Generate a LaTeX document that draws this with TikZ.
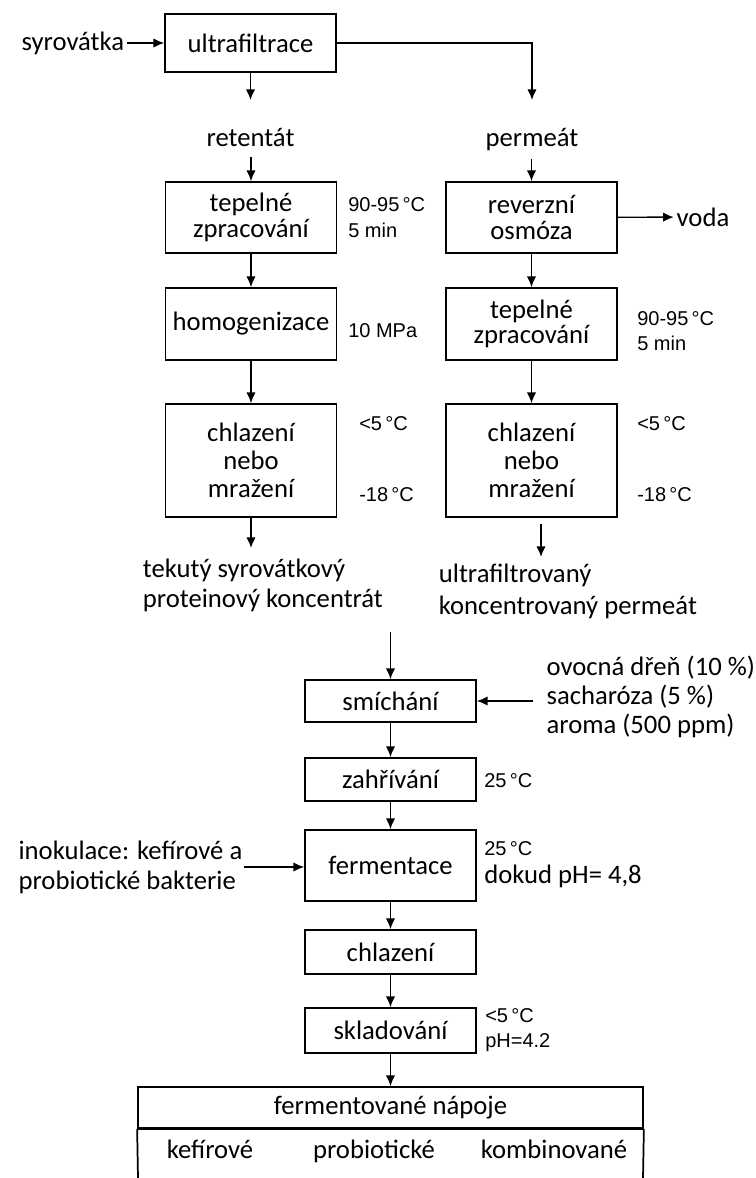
\documentclass[tikz,border=0pt]{standalone}
\usepackage{fontspec}
\setmainfont{Carlito}
\newfontfamily\notefont{Liberation Sans}
\usetikzlibrary{arrows.meta}

\begin{document}
\begin{tikzpicture}[x=0.75pt,y=-0.75pt]
			\tikzstyle{stage} = [draw, line width=1.3pt, minimum width=128.25pt, align=center, inner sep=2pt, font=\fontsize{20}{19}\selectfont]
			\tikzstyle{plain} = [inner sep=2pt, font=\fontsize{20}{22.5}\selectfont]
			\tikzstyle{note} = [anchor=west, align=left, inner sep=0pt, font=\notefont\fontsize{15}{19}\selectfont]
			\tikzset{flowedge/.style = {line width=1pt, -{Latex[length=8pt,width=7pt]}}}
			\useasboundingbox (0,0) rectangle (756,1178);
			
			\node[stage, minimum height=43.5pt](ultra) at (250.5,43) {ultrafiltrace};
			\node[plain, anchor=base east](whey) at (127,50) {syrovátka};
			\draw[flowedge](whey.east |- ultra.west) to (ultra.west);
			\coordinate (retend) at (250.5,100);
			\coordinate (permend) at (532,100);
			\draw[flowedge](ultra) to (retend);
			\draw[flowedge](ultra.east) -| (permend);
			
			\node[plain, anchor=base](ret) at (250.5,146) {retentát};
			\node[plain, anchor=base](perm) at (532,146) {permeát};
			
			\node[stage, minimum height=53.25pt](heatA) at (251,217.5) {tepelné\\zpracování};
			\node[stage, minimum height=54pt](homog) at (251,324) {homogenizace};
			\node[stage, minimum height=84.75pt, font=\fontsize{20}{21}\selectfont](coolA) at (251,460.5) {chlazení\\nebo\\mražení};
			\draw[flowedge, shorten <=6pt](ret.south -| heatA.north) to (heatA);
			\draw[flowedge](heatA) to (homog);
			\draw[flowedge](homog) to (coolA);
			
			\node[stage, minimum height=53.25pt](osmo) at (531.5,217.5) {reverzní\\osmóza};
			\node[stage, minimum height=54pt](heatB) at (531.5,324) {tepelné\\zpracování};
			\node[stage, minimum height=84.75pt, font=\fontsize{20}{21}\selectfont](coolB) at (531.5,460.5) {chlazení\\nebo\\mražení};
			\draw[flowedge, shorten <=4pt](perm.south -| osmo.north) to (osmo);
			\draw[flowedge](osmo) to (heatB);
			\draw[flowedge](heatB) to (coolB);
			\node[plain](water) at (703,217) {voda};
			\draw[flowedge](osmo) to (water);
			
			% podminky
			\node[note] at (348,217.5) {90-95\,°C\\5 min};
			\node[note] at (348,331) {10 MPa};
			\node[note] at (359,424) {<5\,°C};
			\node[note] at (359,495) {-18\,°C};
			\node[note] at (637,331) {90-95\,°C\\5 min};
			\node[note] at (637,424) {<5\,°C};
			\node[note] at (637,495) {-18\,°C};
			
			\coordinate (outA) at (251,548);
			\coordinate (outB) at (541,557);
			\draw[flowedge](coolA) to (outA);
			\draw[flowedge, shorten <=4.5pt](coolB.south -| outB) to (outB);
			\node[plain, anchor=west, align=left](wpc) at (140,585) {tekutý syrovátkový\\proteinový koncentrát};
			\node[plain, anchor=west, align=left, font=\fontsize{20}{24}\selectfont](ufp) at (436,591) {ultrafiltrovaný\\koncentrovaný permeát};
			
			\coordinate (mixin) at (390.5,632);
			\node[stage, minimum height=31.5pt](mix) at (390.5,701) {smíchání};
			\node[stage, minimum height=32.25pt](warm) at (390.5,779.5) {zahřívání};
			\node[stage, minimum height=53.25pt](ferm) at (390.5,865.5) {fermentace};
			\node[stage, minimum height=33pt](coolC) at (390.5,952) {chlazení};
			\node[stage, minimum height=33.75pt](store) at (390.5,1030.5) {skladování};
			\draw[flowedge](mixin) to (mix);
			\draw[flowedge](mix) to (warm);
			\draw[flowedge](warm) to (ferm);
			\draw[flowedge](ferm) to (coolC);
			\draw[flowedge](coolC) to (store);
			
			\node[plain, anchor=west, align=left, inner xsep=10pt, inner ysep=0pt, font=\fontsize{20}{22}\selectfont](fruit) at (533,697) {ovocná dřeň (10 \%)\\sacharóza (5 \%)\\aroma (500 ppm)};
			\draw[flowedge](fruit.west |- mix.east) to (mix.east);
			\node[plain, anchor=west, align=left, inner sep=1pt](inoc) at (17,867) {inokulace: kefírové a\\probiotické bakterie};
			\draw[flowedge](inoc.east) to (inoc.east -| ferm.west);
			
			\node[note] at (484,781) {25\,°C};
			\node[note] at (484,849) {25\,°C};
			\node[plain, anchor=west, inner sep=0pt] at (484,876) {dokud pH= 4,8};
			\node[note] at (485,1030) {<5\,°C\\pH=4.2};
			
			\node[draw, line width=1.3pt, minimum width=378.75pt, minimum height=30.75pt, font=\fontsize{20}{20}\selectfont](drinks) at (390.5,1107.5) {fermentované nápoje};
			\draw[flowedge](store) to (drinks);
			\coordinate (bottomL) at (138,1178);
			\coordinate (bottomR) at (643,1178);
			\draw[line width=1.3pt](drinks.south west) to (bottomL);
			\draw[line width=1.3pt](drinks.south east) to (bottomR);
			\draw[line width=2.2pt](drinks.south west) to (drinks.south east);
			\node[plain, anchor=base](kef) at (210,1158) {kefírové};
			\node[plain, anchor=base](prob) at (374,1158) {probiotické};
			\node[plain, anchor=base](komb) at (554,1158) {kombinované};
			
\end{tikzpicture}
\end{document}
